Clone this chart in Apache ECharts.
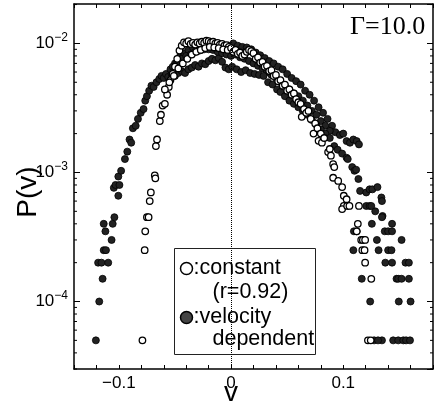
<!DOCTYPE html>
<html>
<head>
<meta charset="utf-8">
<script src="https://cdn.jsdelivr.net/npm/echarts@6/dist/echarts.min.js"></script>
<style>
    html, body {margin: 0; padding: 0; background: #fff;}
    #chart {width: 435px; height: 403px;}
</style>
</head>
<body>
<div id="chart"></div>
<script>
// [v, P(v)]
var constantPts = [
    [-0.079, 5e-5], [-0.077, 2.5e-4], [-0.0765, 3.5e-4], [-0.075, 4.5e-4], [-0.0735, 4.5e-4],
    [-0.0725, 6e-4], [-0.0715, 7e-4], [-0.068, 9.5e-4], [-0.0675, 9e-4], [-0.067, 1.6e-3],
    [-0.066, 1.8e-3], [-0.0635, 2.5e-3], [-0.0625, 2.8e-3], [-0.061, 3.3e-3], [-0.059, 3.4e-3],
    [-0.057, 4.0e-3], [-0.0555, 4.6e-3],
    [-0.054, 5.2e-3], [-0.052, 5.8e-3], [-0.050, 6.6e-3], [-0.048, 7.6e-3], [-0.046, 8.8e-3],
    [-0.044, 9.6e-3], [-0.042, 1.02e-2], [-0.040, 1.0e-2], [-0.038, 1.04e-2], [-0.036, 9.9e-3],
    [-0.034, 1.01e-2], [-0.032, 9.8e-3], [-0.030, 1.02e-2], [-0.028, 1.0e-2], [-0.026, 1.03e-2],
    [-0.024, 1.01e-2], [-0.022, 1.05e-2], [-0.020, 1.04e-2], [-0.018, 1.02e-2], [-0.016, 1.03e-2],
    [-0.014, 1.0e-2], [-0.012, 1.01e-2], [-0.010, 9.8e-3], [-0.008, 9.9e-3], [-0.006, 9.6e-3],
    [-0.004, 9.7e-3], [-0.002, 9.4e-3],
    [-0.059, 4.4e-3], [-0.055, 5.0e-3], [-0.051, 5.6e-3], [-0.047, 6.4e-3], [-0.043, 7.0e-3],
    [-0.039, 7.6e-3], [-0.035, 8.2e-3], [-0.031, 8.6e-3], [-0.027, 8.9e-3], [-0.023, 9.2e-3],
    [-0.019, 9.4e-3], [-0.015, 9.3e-3], [-0.011, 9.2e-3], [-0.007, 9.0e-3], [-0.003, 8.9e-3],
    [0.000, 9.2e-3], [0.002, 8.6e-3], [0.004, 8.9e-3], [0.006, 8.3e-3], [0.008, 8.5e-3],
    [0.010, 8.0e-3], [0.012, 8.2e-3], [0.014, 8.6e-3], [0.016, 8.9e-3], [0.018, 8.7e-3],
    [0.020, 8.4e-3], [0.022, 7.6e-3], [0.024, 7.8e-3], [0.026, 7.1e-3], [0.028, 7.2e-3],
    [0.030, 6.6e-3], [0.032, 6.7e-3], [0.034, 6.1e-3], [0.036, 6.2e-3], [0.038, 5.6e-3],
    [0.040, 5.7e-3], [0.042, 5.1e-3], [0.044, 5.2e-3], [0.046, 4.7e-3], [0.048, 4.8e-3],
    [0.050, 4.3e-3], [0.052, 4.4e-3], [0.054, 4.0e-3], [0.056, 4.1e-3], [0.058, 3.7e-3],
    [0.060, 3.5e-3], [0.062, 3.4e-3], [0.063, 2.7e-3], [0.065, 3.1e-3], [0.067, 2.9e-3],
    [0.069, 3.0e-3], [0.071, 2.6e-3], [0.0735, 2.0e-3], [0.075, 2.4e-3], [0.077, 2.2e-3],
    [0.078, 1.76e-3], [0.080, 2.0e-3], [0.081, 1.7e-3], [0.083, 1.85e-3], [0.0865, 1.44e-3],
    [0.088, 1.52e-3], [0.089, 1.35e-3], [0.091, 1.16e-3], [0.092, 1.1e-3], [0.091, 9.1e-4],
    [0.0955, 8.6e-4], [0.099, 7.7e-4], [0.1005, 6.6e-4], [0.103, 6.2e-4], [0.1005, 5.5e-4],
    [0.099, 5.2e-4], [0.1035, 5.5e-4], [0.1055, 5.5e-4], [0.114, 5.5e-4], [0.113, 4.0e-4],
    [0.112, 3.5e-4], [0.116, 3.0e-4], [0.1175, 3.0e-4], [0.1195, 3.0e-4], [0.117, 2.5e-4],
    [0.119, 2.5e-4], [0.1195, 2.0e-4], [0.125, 1.5e-4], [0.122, 5e-5], [0.1245, 5e-5]
];

var velocityPts = [
    [-0.1205, 5e-5], [-0.1175, 1e-4], [-0.1185, 2e-4], [-0.1155, 2e-4], [-0.1145, 1.5e-4],
    [-0.1135, 2.5e-4], [-0.1115, 2.5e-4], [-0.1135, 4e-4], [-0.112, 3.5e-4], [-0.1095, 2e-4],
    [-0.1065, 3e-4], [-0.1055, 4e-4], [-0.104, 4.5e-4], [-0.1045, 7.6e-4], [-0.103, 8e-4],
    [-0.1005, 6.6e-4], [-0.1005, 9.3e-4], [-0.0995, 8e-4], [-0.098, 1.03e-3], [-0.0946, 1.27e-3],
    [-0.0925, 1.45e-3], [-0.0905, 1.8e-3], [-0.089, 1.7e-3], [-0.0875, 2.2e-3], [-0.085, 2.3e-3],
    [-0.083, 2.6e-3], [-0.0805, 2.9e-3], [-0.078, 3.1e-3], [-0.0765, 3.6e-3], [-0.075, 3.9e-3],
    [-0.073, 4.3e-3], [-0.071, 4.7e-3], [-0.069, 4.6e-3], [-0.0665, 5.0e-3], [-0.064, 5.3e-3],
    [-0.062, 5.6e-3], [-0.060, 5.4e-3], [-0.058, 5.8e-3],
    [-0.056, 5.5e-3], [-0.053, 5.8e-3], [-0.050, 5.6e-3], [-0.047, 5.9e-3], [-0.044, 6.1e-3],
    [-0.041, 5.9e-3], [-0.038, 6.3e-3], [-0.035, 6.5e-3], [-0.032, 6.8e-3], [-0.029, 6.6e-3],
    [-0.026, 7.0e-3], [-0.023, 6.9e-3], [-0.020, 7.3e-3], [-0.017, 7.6e-3], [-0.014, 7.4e-3],
    [-0.011, 7.7e-3], [-0.008, 7.2e-3], [-0.005, 6.5e-3], [-0.002, 6.3e-3], [0.001, 6.6e-3],
    [-0.054, 6.3e-3], [-0.050, 7.0e-3], [-0.046, 7.8e-3], [-0.042, 8.4e-3], [-0.038, 8.9e-3],
    [-0.034, 9.3e-3], [-0.030, 9.5e-3], [-0.026, 9.7e-3], [-0.022, 9.9e-3], [-0.018, 9.8e-3],
    [-0.014, 9.6e-3], [-0.010, 9.5e-3], [-0.006, 9.3e-3], [-0.002, 9.6e-3],
    [-0.052, 6.6e-3], [-0.048, 7.2e-3], [-0.044, 7.6e-3], [-0.040, 8.0e-3], [-0.036, 8.2e-3],
    [-0.032, 8.6e-3], [-0.028, 8.8e-3], [-0.024, 9.0e-3], [-0.020, 9.0e-3], [-0.016, 8.9e-3],
    [-0.012, 8.6e-3], [-0.008, 8.4e-3], [-0.004, 8.2e-3], [0.000, 8.0e-3],
    [0.002, 1.0e-2], [0.006, 9.6e-3], [0.010, 9.4e-3], [0.014, 9.3e-3], [0.018, 9.0e-3],
    [0.022, 8.5e-3], [0.026, 8.1e-3], [0.030, 7.7e-3], [0.034, 7.3e-3], [0.038, 7.0e-3],
    [0.042, 6.6e-3], [0.046, 6.3e-3], [0.050, 5.8e-3], [0.054, 5.4e-3], [0.058, 5.1e-3],
    [0.062, 4.8e-3], [0.066, 4.3e-3], [0.070, 4.0e-3], [0.074, 3.6e-3], [0.078, 3.2e-3],
    [0.082, 2.9e-3], [0.086, 2.6e-3], [0.090, 2.3e-3], [0.093, 2.05e-3], [0.097, 1.95e-3],
    [0.100, 2.0e-3], [0.103, 1.75e-3], [0.106, 1.7e-3], [0.109, 1.8e-3], [0.112, 1.75e-3],
    [0.114, 1.65e-3],
    [0.004, 8.2e-3], [0.008, 7.8e-3], [0.012, 7.6e-3], [0.016, 7.3e-3], [0.020, 7.0e-3],
    [0.024, 6.7e-3], [0.028, 6.4e-3], [0.032, 6.0e-3], [0.036, 5.7e-3], [0.040, 5.4e-3],
    [0.044, 5.0e-3], [0.048, 4.7e-3], [0.052, 4.4e-3], [0.056, 4.1e-3], [0.060, 3.9e-3],
    [0.064, 3.6e-3], [0.068, 3.3e-3], [0.072, 3.0e-3], [0.076, 2.8e-3], [0.080, 2.5e-3],
    [0.084, 2.3e-3], [0.088, 2.1e-3],
    [0.005, 6.3e-3], [0.009, 6.0e-3], [0.013, 6.2e-3], [0.017, 5.9e-3], [0.021, 5.8e-3],
    [0.025, 5.7e-3], [0.029, 5.6e-3], [0.033, 5.0e-3], [0.037, 4.8e-3], [0.041, 4.4e-3],
    [0.044, 4.2e-3], [0.048, 3.9e-3], [0.052, 3.6e-3], [0.056, 3.4e-3], [0.060, 3.2e-3],
    [0.064, 3.0e-3], [0.068, 2.8e-3], [0.072, 2.55e-3], [0.076, 2.35e-3], [0.080, 2.15e-3],
    [0.084, 2.0e-3], [0.088, 1.85e-3], [0.092, 1.6e-3], [0.095, 1.5e-3], [0.099, 1.4e-3],
    [0.103, 1.3e-3], [0.104, 1.27e-3],
    [0.108, 1.1e-3], [0.110, 1.03e-3], [0.1115, 1.05e-3], [0.1135, 8.9e-4], [0.115, 7.2e-4],
    [0.1205, 7.0e-4], [0.1235, 7.4e-4], [0.126, 7.4e-4], [0.1305, 7.7e-4], [0.134, 6.4e-4],
    [0.1345, 6.0e-4], [0.1285, 5.0e-4], [0.1205, 5.5e-4], [0.1235, 5.5e-4], [0.125, 5.5e-4],
    [0.135, 4.6e-4], [0.1345, 4.5e-4], [0.1255, 4.0e-4], [0.1435, 4.0e-4], [0.1095, 3.5e-4],
    [0.112, 3.5e-4], [0.137, 3.5e-4], [0.140, 3.5e-4], [0.1435, 3.5e-4], [0.130, 3.0e-4],
    [0.152, 3.0e-4], [0.109, 2.5e-4], [0.1315, 2.5e-4], [0.140, 2.5e-4], [0.143, 2.5e-4],
    [0.1375, 2.0e-4], [0.1435, 2.0e-4], [0.1555, 2.0e-4], [0.1585, 2.0e-4], [0.1165, 1.5e-4],
    [0.1475, 1.5e-4], [0.149, 1.5e-4], [0.152, 1.5e-4], [0.1585, 1.5e-4], [0.124, 1e-4],
    [0.1495, 1e-4], [0.160, 1e-4], [0.1345, 5e-5], [0.1275, 5e-5], [0.131, 5e-5],
    [0.1445, 5e-5], [0.149, 5e-5], [0.1535, 5e-5], [0.156, 5e-5], [0.1595, 5e-5]
];

var xLabelVals = [-0.1, 0, 0.1];
var yMinorTicks = [
    3e-5, 4e-5, 5e-5, 6e-5, 7e-5, 8e-5, 9e-5,
    2e-4, 3e-4, 4e-4, 5e-4, 6e-4, 7e-4, 8e-4, 9e-4,
    2e-3, 3e-3, 4e-3, 5e-3, 6e-3, 7e-3, 8e-3, 9e-3, 2e-2
];

var FONT = '"Liberation Sans", Arial, sans-serif';

function xLabel(v) {
    var r = Math.round(v * 100) / 100;
    for (var i = 0; i < xLabelVals.length; i++) {
        if (Math.abs(r - xLabelVals[i]) < 1e-9) {
            return r < 0 ? '\u2212' + Math.abs(r) : String(r);
        }
    }
    return '';
}

function yLabel(v) {
    var l = Math.log(v) / Math.LN10;
    var e = Math.round(l);
    if (Math.abs(l - e) > 1e-6) return '';
    return '{b|10}{s|\u2212' + (-e) + '}';
}

function initChart() {
    var chart = echarts.init(document.getElementById('chart'));
    var axisLine = {show: true, onZero: false, lineStyle: {color: '#000', width: 1.5}};

    var option = {
        animation: false,
        backgroundColor: '#fff',
        grid: {left: 74, right: 2, top: 4, bottom: 34, show: false, containLabel: false, outerBoundsMode: 'none'},
        xAxis: [
            {
                type: 'value', position: 'bottom', min: -0.14, max: 0.18, interval: 0.02,
                axisLine: axisLine,
                axisTick: {inside: true, length: 4, lineStyle: {color: '#000'}},
                axisLabel: {formatter: xLabel, color: '#000', fontSize: 17, fontFamily: FONT, margin: 6},
                splitLine: {show: false}
            },
            {
                type: 'value', position: 'top', min: -0.14, max: 0.18, interval: 0.02,
                axisLine: axisLine,
                axisTick: {inside: true, length: 4, lineStyle: {color: '#000'}},
                axisLabel: {show: false},
                splitLine: {show: false}
            }
        ],
        yAxis: [
            {
                type: 'log', logBase: 10, position: 'left', min: 3e-5, max: 0.0202,
                axisLine: axisLine,
                axisTick: {inside: true, length: 6, lineStyle: {color: '#000'}},
                axisLabel: {
                    formatter: yLabel, showMinLabel: false, showMaxLabel: false, margin: 6,
                    color: '#000', fontFamily: FONT,
                    rich: {
                        b: {fontSize: 17, fontFamily: FONT, color: '#000'},
                        s: {fontSize: 12, fontFamily: FONT, color: '#000', padding: [0, 0, 11, 0]}
                    }
                },
                splitLine: {show: false}
            },
            {
                type: 'log', logBase: 10, position: 'right', min: 3e-5, max: 0.0202,
                axisLine: axisLine,
                axisTick: {inside: true, length: 6, lineStyle: {color: '#000'}},
                axisLabel: {show: false},
                splitLine: {show: false}
            }
        ],
        series: [
            {
                // minor decade ticks on both sides
                type: 'custom',
                silent: true,
                xAxisIndex: 0, yAxisIndex: 0,
                data: yMinorTicks.map(function (t) { return [0, t]; }),
                renderItem: function (params, api) {
                    var y = api.coord([0, api.value(1)])[1];
                    var cs = params.coordSys;
                    return {
                        type: 'group',
                        children: [
                            {type: 'line', shape: {x1: cs.x, y1: y, x2: cs.x + 3, y2: y}, style: {stroke: '#000', lineWidth: 1}},
                            {type: 'line', shape: {x1: cs.x + cs.width - 3, y1: y, x2: cs.x + cs.width, y2: y}, style: {stroke: '#000', lineWidth: 1}}
                        ]
                    };
                }
            },
            {
                name: 'velocity dependent',
                type: 'scatter',
                data: velocityPts,
                symbol: 'circle',
                symbolSize: 7,
                itemStyle: {color: '#222', borderColor: '#000', borderWidth: 0.8, opacity: 1},
                markLine: {
                    silent: true,
                    symbol: ['none', 'none'],
                    label: {show: false},
                    lineStyle: {type: 'dotted', color: '#000', width: 1},
                    data: [{xAxis: 0}]
                },
                z: 2
            },
            {
                name: 'constant',
                type: 'scatter',
                data: constantPts,
                symbol: 'circle',
                symbolSize: 6.5,
                itemStyle: {color: '#fff', borderColor: '#000', borderWidth: 1.3, opacity: 1},
                z: 3
            }
        ],
        graphic: [
            {
                type: 'text', z: 100, left: 350, top: 14,
                style: {text: '\u0393=10.0', font: '26px "Liberation Serif", "Times New Roman", serif', fill: '#000'}
            },
            {
                type: 'text', z: 100, x: 28, y: 192, rotation: Math.PI / 2,
                style: {text: 'P(v)', align: 'center', verticalAlign: 'middle', font: '28px ' + FONT, fill: '#000'}
            },
            {
                type: 'text', z: 100, x: 231, y: 379,
                style: {text: 'v', align: 'center', verticalAlign: 'top', font: '28px ' + FONT, fill: '#000'}
            },
            {
                type: 'group', z: 100, left: 174, top: 248,
                children: [
                    {type: 'rect', shape: {x: 0, y: 0, width: 141, height: 106}, style: {fill: '#fff', stroke: '#222', lineWidth: 1}},
                    {type: 'circle', shape: {cx: 12, cy: 20, r: 6}, style: {fill: '#fff', stroke: '#000', lineWidth: 1.5}},
                    {type: 'text', style: {text: ':constant', x: 19, y: 20, verticalAlign: 'middle', font: '21.5px ' + FONT, fill: '#000'}},
                    {type: 'text', style: {text: '(r=0.92)', x: 38, y: 44, verticalAlign: 'middle', font: '21.5px ' + FONT, fill: '#000'}},
                    {type: 'circle', shape: {cx: 12, cy: 69, r: 6}, style: {fill: '#444', stroke: '#000', lineWidth: 1.5}},
                    {type: 'text', style: {text: ':velocity', x: 19, y: 69, verticalAlign: 'middle', font: '21.5px ' + FONT, fill: '#000'}},
                    {type: 'text', style: {text: 'dependent', x: 38, y: 91, verticalAlign: 'middle', font: '21.5px ' + FONT, fill: '#000'}}
                ]
            }
        ]
    };
    chart.setOption(option);
}

initChart();
</script>
</body>
</html>
